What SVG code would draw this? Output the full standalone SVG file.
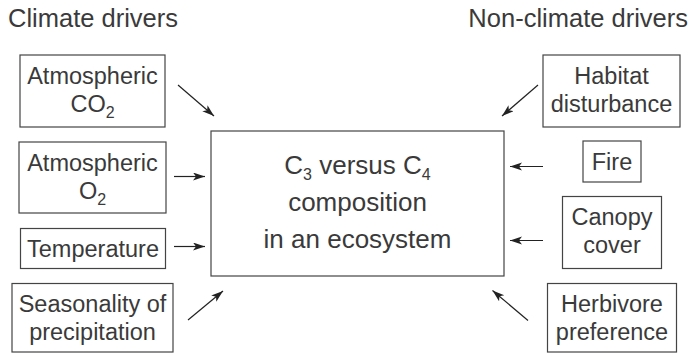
<svg xmlns="http://www.w3.org/2000/svg" width="694" height="355" viewBox="0 0 694 355">
<style>
text{font-family:"Liberation Sans",Arial,sans-serif;fill:#3a3a3a;}
.t{font-size:25.5px;}
.b{font-size:23.5px;text-anchor:middle;}
.c{font-size:26px;text-anchor:middle;}
rect{fill:#fff;stroke:#444;stroke-width:1.2;}
.sub{font-size:16px;}
#connectors line{stroke:#222;stroke-width:1.2;marker-end:url(#ah);}
</style>
<defs>
<marker id="ah" markerUnits="userSpaceOnUse" markerWidth="14" markerHeight="10" refX="12" refY="4" orient="auto">
<path d="M0,0 L12,4 L0,8 L3,4 Z" fill="#222"/>
</marker>
</defs>
<text class="t" x="8" y="27">Climate drivers</text>
<text class="t" x="688" y="27" text-anchor="end">Non-climate drivers</text>

<g id="center">
<rect x="211" y="131" width="293" height="145"/>
<text class="c" x="357.5" y="174">C<tspan class="sub" dy="6">3</tspan><tspan dy="-6"> versus C</tspan><tspan class="sub" dy="6">4</tspan></text>
<text class="c" x="357.5" y="211">composition</text>
<text class="c" x="357.5" y="248">in an ecosystem</text>
</g>

<g id="co2">
<rect x="20" y="55" width="145" height="72"/>
<text class="b" x="92.5" y="83.5">Atmospheric</text>
<text class="b" x="92.5" y="112">CO<tspan class="sub" dy="6">2</tspan></text>
</g>
<g id="o2">
<rect x="19" y="142" width="147" height="71"/>
<text class="b" x="92.5" y="170.5">Atmospheric</text>
<text class="b" x="92.5" y="199">O<tspan class="sub" dy="6">2</tspan></text>
</g>
<g id="temperature">
<rect x="20.5" y="228.5" width="145" height="40"/>
<text class="b" x="93" y="257">Temperature</text>
</g>
<g id="seasonality">
<rect x="12" y="283.5" width="161" height="68.5"/>
<text class="b" x="92.5" y="311.5">Seasonality of</text>
<text class="b" x="92.5" y="340">precipitation</text>
</g>

<g id="habitat">
<rect x="543" y="55" width="137" height="72"/>
<text class="b" x="611.5" y="83.5">Habitat</text>
<text class="b" x="611.5" y="112">disturbance</text>
</g>
<g id="fire">
<rect x="583" y="141" width="58" height="41"/>
<text class="b" x="612" y="170">Fire</text>
</g>
<g id="canopy">
<rect x="562.5" y="196.5" width="99" height="72"/>
<text class="b" x="612" y="224.5">Canopy</text>
<text class="b" x="612" y="253">cover</text>
</g>
<g id="herbivore">
<rect x="547.5" y="283.5" width="129" height="68.5"/>
<text class="b" x="612" y="311.5">Herbivore</text>
<text class="b" x="612" y="340">preference</text>
</g>

<g id="connectors">
<line x1="178" y1="85" x2="214" y2="116"/>
<line x1="174" y1="176.5" x2="205" y2="176.5"/>
<line x1="174" y1="246.5" x2="205" y2="246.5"/>
<line x1="188" y1="320" x2="223" y2="291"/>
<line x1="538" y1="85" x2="502" y2="116"/>
<line x1="543" y1="166.5" x2="510" y2="166.5"/>
<line x1="543" y1="240.5" x2="510" y2="240.5"/>
<line x1="528" y1="320.5" x2="492.5" y2="290.5"/>
</g>
</svg>
